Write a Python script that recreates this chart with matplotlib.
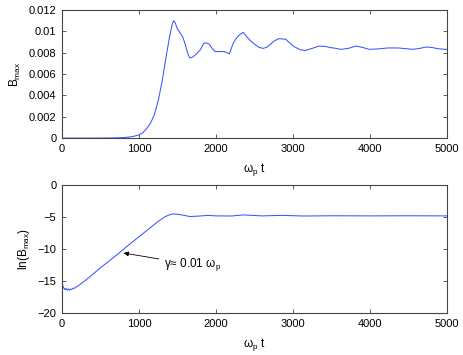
import matplotlib
matplotlib.use("Agg")
import matplotlib.pyplot as plt

plt.rcParams["font.family"] = ["Liberation Sans", "DejaVu Sans"]
plt.rcParams["mathtext.fontset"] = "custom"
plt.rcParams["mathtext.rm"] = "Liberation Sans"

LINE = "#3a55ff"

# top panel: B_max vs omega_p t
t_top = [0, 200, 400, 600, 700, 800, 900, 950, 1000, 1050, 1100, 1150, 1200,
         1250, 1300, 1350, 1400, 1430, 1450, 1470, 1500, 1530, 1567, 1600, 1630,
         1660, 1700, 1749, 1800, 1844, 1880, 1913, 1950, 1990, 2040, 2104, 2140,
         2175, 2225, 2270, 2310, 2356, 2400, 2450, 2500, 2560, 2610, 2660, 2710,
         2760, 2810, 2850, 2907, 2960, 3016, 3090, 3155, 3250, 3342, 3420, 3494,
         3560, 3625, 3720, 3820, 3900, 3994, 4120, 4233, 4364, 4460, 4559, 4650,
         4733, 4810, 4885, 5000]
b_top = [0.0, 0.0, 0.0, 0.00001, 0.00002, 0.00005, 0.00012, 0.0002, 0.0003,
         0.0005, 0.0009, 0.0014, 0.0022, 0.0035, 0.0053, 0.0075, 0.0096, 0.0106,
         0.0110, 0.0108, 0.0102, 0.0099, 0.0095, 0.0088, 0.0080, 0.0075, 0.0076,
         0.0079, 0.0083, 0.0089, 0.0089, 0.0088, 0.0084, 0.0081, 0.0081, 0.0081,
         0.0080, 0.0079, 0.0089, 0.0094, 0.0097, 0.0099, 0.0095, 0.0091, 0.0088,
         0.0085, 0.0084, 0.0085, 0.0088, 0.0091, 0.0093, 0.0093, 0.00925, 0.0089,
         0.00856, 0.0083, 0.00819, 0.0084, 0.00862, 0.00858, 0.00847, 0.0084,
         0.00831, 0.0084, 0.00862, 0.0085, 0.00831, 0.00836, 0.00844, 0.00844,
         0.00838, 0.00831, 0.0084, 0.00853, 0.00848, 0.00837, 0.0083]

# bottom panel: ln(B_max) vs omega_p t
t_bot = [0, 10, 20, 35, 50, 65, 80, 95, 110, 125, 140, 160, 180, 200, 300, 500,
         700, 900, 1100, 1250, 1330, 1380, 1420, 1450, 1500, 1560, 1600, 1660,
         1750, 1900, 2000, 2200, 2350, 2600, 2850, 3150, 3500, 4000, 4500, 5000]
ln_bot = [-14.8, -15.7, -16.0, -16.3, -16.1, -16.4, -16.2, -16.4, -16.2, -16.3,
          -16.1, -16.1, -15.9, -15.8, -14.9, -12.9, -11.0, -9.0, -7.1, -5.65,
          -5.0, -4.7, -4.55, -4.5, -4.55, -4.65, -4.75, -4.9, -4.85, -4.72, -4.8,
          -4.82, -4.65, -4.8, -4.72, -4.82, -4.78, -4.8, -4.78, -4.8]

XTICKS = [0, 1000, 2000, 3000, 4000, 5000]
XLABEL = r"$\mathregular{\omega_p}$ t"

fig = plt.figure(figsize=(4.63, 3.55), dpi=100)
ax1 = fig.add_axes([0.134, 0.611, 0.831, 0.361])
ax2 = fig.add_axes([0.134, 0.1175, 0.831, 0.361])


def style(ax):
    ax.tick_params(direction="in", top=True, right=True, labelsize=8,
                   length=3, width=0.6, color="#444444", pad=4)
    for s in ax.spines.values():
        s.set_color("#444444")
        s.set_linewidth(0.8)
    ax.set_xlim(0, 5000)
    ax.set_xticks(XTICKS)
    ax.set_xlabel(XLABEL, fontsize=8.5, labelpad=5)


ax1.plot(t_top, b_top, color=LINE, lw=0.75)
ax1.set_ylim(0, 0.012)
ax1.set_yticks([0, 0.002, 0.004, 0.006, 0.008, 0.01, 0.012])
ax1.set_yticklabels(["0", "0.002", "0.004", "0.006", "0.008", "0.01", "0.012"])
ax1.set_ylabel(r"$\mathregular{B_{max}}$", fontsize=8.5)
style(ax1)

ax2.plot(t_bot, ln_bot, color=LINE, lw=0.75)
ax2.set_ylim(-20, 0)
ax2.set_yticks([-20, -15, -10, -5, 0])
ax2.set_yticklabels(["\u221220", "\u221215", "\u221210", "\u22125", "0"])
ax2.set_ylabel(r"ln($\mathregular{B_{max}}$)", fontsize=8.5)
style(ax2)

ax2.annotate(r"$\mathregular{\gamma}$≈ 0.01 $\mathregular{\omega_p}$",
             xy=(800, -10.6), xytext=(1330, -12.4), fontsize=8.5, va="center",
             arrowprops=dict(arrowstyle="-|>", color="black", lw=0.6,
                             mutation_scale=7, shrinkA=2, shrinkB=0))

fig.savefig("out.png", dpi=100)
